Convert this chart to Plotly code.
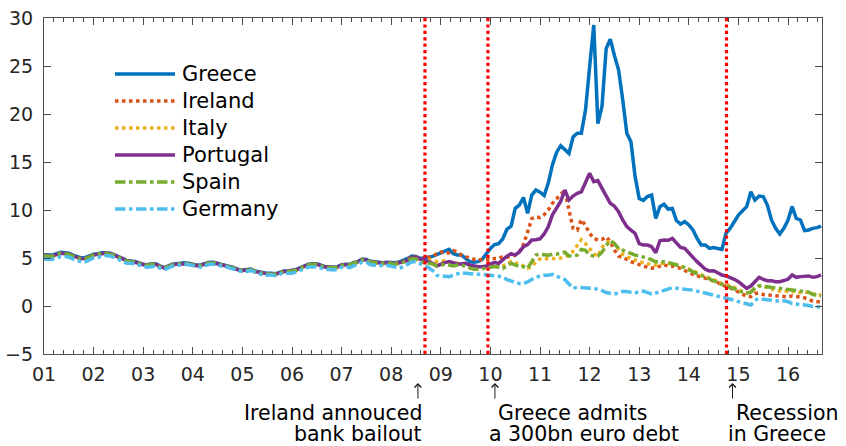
import plotly.graph_objects as go

# ---------------- data (monthly 10-year government bond yields, %) ----------------
n_months = 189  # Jan 2001 .. Sep 2016
months = [2001 + i / 12 for i in range(n_months)]

greece = [
    5.35, 5.30, 5.30, 5.45, 5.60, 5.55, 5.50, 5.30, 5.15, 5.00, 5.05, 5.25,
    5.40, 5.45, 5.55, 5.55, 5.50, 5.35, 5.15, 4.95, 4.75, 4.70, 4.65, 4.50,
    4.35, 4.30, 4.40, 4.40, 4.15, 4.00, 4.15, 4.35, 4.40, 4.45, 4.50, 4.45,
    4.35, 4.25, 4.30, 4.45, 4.55, 4.55, 4.45, 4.35, 4.25, 4.10, 4.00, 3.80,
    3.75, 3.80, 3.85, 3.65, 3.55, 3.45, 3.40, 3.40, 3.35, 3.50, 3.65, 3.65,
    3.70, 3.80, 4.00, 4.20, 4.35, 4.40, 4.40, 4.25, 4.10, 4.10, 4.05, 4.10,
    4.30, 4.35, 4.35, 4.55, 4.65, 4.90, 4.85, 4.65, 4.60, 4.55, 4.50, 4.55,
    4.55, 4.50, 4.60, 4.75, 4.95, 5.20, 5.15, 4.96, 5.00, 5.10, 5.17, 5.35,
    5.56, 5.76, 5.90, 5.45, 5.30, 5.30, 4.96, 4.62, 4.55, 4.62, 4.86, 5.45,
    6.00, 6.40, 6.50, 7.00, 8.00, 8.30, 10.17, 10.50, 11.30, 9.65, 11.56, 12.08,
    11.85, 11.50, 12.80, 14.70, 16.00, 16.70, 16.30, 15.90, 17.60, 18.00, 18.00, 20.40,
    24.90, 29.27, 19.00, 20.80, 26.80, 27.80, 26.10, 24.60, 21.50, 18.00, 17.10, 13.50,
    11.20, 11.00, 11.40, 11.56, 9.13, 10.35, 10.60, 10.10, 10.17, 8.90, 8.54, 8.78,
    8.44, 7.92, 7.05, 6.35, 6.35, 6.00, 6.10, 6.00, 5.90, 7.57, 8.09, 8.78,
    9.48, 9.93, 10.35, 11.90, 11.04, 11.46, 11.40, 10.52, 8.96, 8.09, 7.50, 8.09,
    8.96, 10.35, 9.13, 8.96, 7.85, 7.92, 8.09, 8.16, 8.33,
]

ireland = [
    5.20, 5.15, 5.15, 5.30, 5.45, 5.40, 5.35, 5.15, 5.00, 4.85, 4.90, 5.10,
    5.25, 5.35, 5.45, 5.45, 5.40, 5.25, 5.05, 4.85, 4.65, 4.60, 4.55, 4.40,
    4.25, 4.20, 4.30, 4.30, 4.05, 3.90, 4.05, 4.25, 4.30, 4.35, 4.40, 4.35,
    4.25, 4.15, 4.20, 4.35, 4.45, 4.45, 4.35, 4.25, 4.15, 4.00, 3.90, 3.70,
    3.65, 3.70, 3.75, 3.55, 3.45, 3.35, 3.30, 3.30, 3.25, 3.40, 3.55, 3.55,
    3.60, 3.70, 3.90, 4.10, 4.25, 4.30, 4.30, 4.15, 4.00, 4.00, 3.95, 4.00,
    4.20, 4.25, 4.25, 4.45, 4.55, 4.80, 4.75, 4.55, 4.50, 4.45, 4.40, 4.45,
    4.45, 4.45, 4.55, 4.65, 4.85, 5.15, 5.10, 4.86, 4.90, 5.07, 5.14, 5.45,
    5.63, 5.45, 5.55, 5.76, 5.65, 5.30, 5.14, 4.96, 4.86, 4.80, 4.86, 4.90,
    4.80, 4.96, 4.96, 5.14, 5.07, 5.20, 5.30, 5.63, 6.40, 7.70, 9.10, 9.30,
    9.20, 9.50, 10.00, 10.70, 11.20, 11.56, 12.08, 10.00, 8.09, 7.90, 9.00, 8.40,
    7.57, 7.05, 6.87, 6.94, 7.20, 6.70, 5.83, 5.20, 5.07, 4.86, 4.62, 4.50,
    4.38, 4.17, 4.03, 3.93, 4.00, 4.20, 4.30, 4.15, 4.15, 4.05, 3.93, 3.70,
    3.45, 3.30, 3.15, 3.05, 2.90, 2.75, 2.60, 2.45, 2.20, 2.05, 1.90, 1.70,
    1.45, 1.20, 1.00, 0.97, 1.30, 1.35, 1.20, 1.15, 1.10, 1.10, 1.05, 0.97,
    0.95, 1.05, 1.00, 0.90, 0.85, 0.70, 0.50, 0.45, 0.45,
]

italy = [
    5.25, 5.20, 5.20, 5.35, 5.50, 5.45, 5.40, 5.20, 5.05, 4.90, 4.95, 5.15,
    5.30, 5.40, 5.50, 5.50, 5.45, 5.30, 5.10, 4.90, 4.70, 4.65, 4.60, 4.45,
    4.30, 4.25, 4.35, 4.35, 4.10, 3.95, 4.10, 4.30, 4.35, 4.40, 4.45, 4.40,
    4.30, 4.20, 4.25, 4.40, 4.50, 4.50, 4.40, 4.30, 4.20, 4.05, 3.95, 3.75,
    3.70, 3.75, 3.80, 3.60, 3.50, 3.40, 3.35, 3.35, 3.30, 3.45, 3.60, 3.60,
    3.65, 3.75, 3.95, 4.15, 4.30, 4.35, 4.35, 4.20, 4.05, 4.05, 4.00, 4.05,
    4.25, 4.30, 4.30, 4.50, 4.60, 4.85, 4.80, 4.60, 4.55, 4.50, 4.45, 4.50,
    4.45, 4.40, 4.50, 4.60, 4.75, 5.05, 5.00, 4.80, 4.80, 4.80, 4.79, 4.62,
    4.62, 4.72, 4.62, 4.52, 4.45, 4.50, 4.30, 4.10, 4.10, 4.10, 4.17, 4.10,
    4.27, 4.38, 4.10, 4.17, 4.38, 4.62, 4.45, 4.45, 4.17, 3.93, 4.10, 4.62,
    4.90, 4.90, 4.90, 4.90, 4.95, 5.00, 5.10, 5.30, 5.70, 6.30, 6.90, 6.50,
    6.00, 5.45, 5.20, 6.10, 6.60, 6.80, 6.50, 5.90, 5.40, 5.14, 4.93, 4.79,
    4.62, 4.50, 4.45, 4.30, 4.25, 4.40, 4.45, 4.40, 4.45, 4.30, 4.15, 4.05,
    3.85, 3.65, 3.40, 3.25, 3.10, 2.90, 2.80, 2.60, 2.35, 2.25, 2.10, 1.95,
    1.70, 1.55, 1.35, 1.45, 1.80, 2.10, 2.05, 1.90, 1.80, 1.65, 1.55, 1.60,
    1.50, 1.55, 1.35, 1.40, 1.45, 1.40, 1.25, 1.15, 1.15,
]

portugal = [
    5.25, 5.22, 5.22, 5.36, 5.50, 5.46, 5.40, 5.22, 5.06, 4.92, 4.96, 5.15,
    5.30, 5.38, 5.48, 5.50, 5.45, 5.30, 5.10, 4.92, 4.72, 4.66, 4.60, 4.46,
    4.30, 4.26, 4.35, 4.35, 4.12, 3.96, 4.10, 4.30, 4.36, 4.40, 4.45, 4.40,
    4.30, 4.20, 4.25, 4.40, 4.50, 4.50, 4.40, 4.30, 4.20, 4.05, 3.95, 3.76,
    3.70, 3.75, 3.80, 3.60, 3.50, 3.40, 3.36, 3.35, 3.30, 3.45, 3.60, 3.60,
    3.65, 3.76, 3.95, 4.15, 4.30, 4.35, 4.35, 4.20, 4.05, 4.05, 4.00, 4.05,
    4.25, 4.30, 4.30, 4.50, 4.60, 4.85, 4.80, 4.60, 4.55, 4.50, 4.45, 4.50,
    4.45, 4.40, 4.50, 4.60, 4.75, 5.10, 5.05, 4.86, 4.80, 4.62, 4.45, 4.17,
    4.38, 4.52, 4.62, 4.52, 4.38, 4.38, 4.45, 4.27, 4.17, 4.10, 4.10, 4.17,
    4.38, 4.52, 4.45, 4.86, 5.20, 5.45, 5.30, 5.63, 6.18, 6.40, 6.87, 6.90,
    7.00, 7.50, 8.26, 9.50, 10.20, 10.90, 12.08, 11.04, 11.45, 11.73, 11.90, 12.78,
    13.82, 12.95, 13.06, 12.26, 11.56, 10.70, 10.40, 9.83, 8.96, 8.26, 7.90, 7.57,
    6.50, 6.35, 6.35, 6.18, 5.55, 6.80, 6.87, 6.85, 7.05, 6.53, 6.10, 6.00,
    5.49, 5.07, 4.62, 4.17, 3.82, 3.65, 3.68, 3.47, 3.23, 3.13, 2.99, 2.78,
    2.53, 2.19, 1.84, 2.08, 2.53, 2.99, 2.78, 2.64, 2.64, 2.53, 2.53, 2.70,
    2.78, 3.23, 2.99, 3.06, 3.13, 3.13, 2.99, 3.06, 3.23,
]

spain = [
    5.22, 5.18, 5.18, 5.32, 5.48, 5.43, 5.38, 5.18, 5.02, 4.88, 4.92, 5.12,
    5.28, 5.38, 5.48, 5.48, 5.42, 5.28, 5.08, 4.88, 4.68, 4.62, 4.58, 4.42,
    4.28, 4.22, 4.32, 4.32, 4.08, 3.92, 4.08, 4.28, 4.32, 4.38, 4.42, 4.38,
    4.28, 4.18, 4.22, 4.38, 4.48, 4.48, 4.38, 4.28, 4.18, 4.02, 3.92, 3.72,
    3.68, 3.72, 3.78, 3.58, 3.48, 3.38, 3.32, 3.32, 3.28, 3.42, 3.58, 3.58,
    3.62, 3.72, 3.92, 4.12, 4.28, 4.32, 4.32, 4.18, 4.02, 4.02, 3.98, 4.02,
    4.22, 4.28, 4.28, 4.48, 4.58, 4.82, 4.78, 4.58, 4.52, 4.48, 4.42, 4.48,
    4.40, 4.35, 4.45, 4.55, 4.70, 4.95, 4.90, 4.62, 4.52, 4.45, 4.38, 4.17,
    4.27, 4.35, 4.27, 4.17, 4.27, 4.27, 4.10, 3.93, 3.82, 3.82, 3.90, 3.93,
    4.10, 4.10, 4.03, 3.93, 4.17, 4.45, 4.27, 4.10, 4.10, 3.93, 4.62, 5.30,
    5.40, 5.35, 5.30, 5.40, 5.40, 5.50, 5.60, 5.20, 5.20, 5.30, 5.90, 5.80,
    5.30, 5.20, 5.20, 5.60, 6.30, 6.80, 6.50, 6.00, 5.80, 5.63, 5.50, 5.30,
    5.20, 5.10, 5.00, 4.80, 4.60, 4.65, 4.60, 4.55, 4.40, 4.30, 4.15, 4.00,
    3.75, 3.60, 3.35, 3.20, 3.00, 2.80, 2.70, 2.50, 2.25, 2.05, 1.95, 1.80,
    1.55, 1.45, 1.35, 1.45, 1.90, 2.10, 2.05, 1.95, 1.95, 1.85, 1.80, 1.75,
    1.70, 1.65, 1.60, 1.55, 1.50, 1.45, 1.20, 1.10, 1.05,
]

germany = [
    4.90, 4.85, 4.85, 5.00, 5.15, 5.15, 5.10, 4.90, 4.75, 4.60, 4.60, 4.85,
    5.00, 5.05, 5.20, 5.25, 5.20, 5.05, 4.85, 4.65, 4.45, 4.45, 4.40, 4.25,
    4.10, 4.05, 4.10, 4.15, 3.95, 3.75, 3.95, 4.15, 4.20, 4.25, 4.35, 4.30,
    4.20, 4.10, 4.05, 4.20, 4.35, 4.35, 4.30, 4.15, 4.10, 3.95, 3.85, 3.65,
    3.60, 3.60, 3.70, 3.50, 3.35, 3.20, 3.20, 3.25, 3.15, 3.30, 3.45, 3.40,
    3.40, 3.55, 3.75, 3.95, 4.05, 4.05, 4.10, 3.95, 3.80, 3.80, 3.75, 3.80,
    4.05, 4.10, 4.00, 4.20, 4.35, 4.60, 4.55, 4.30, 4.25, 4.30, 4.15, 4.25,
    4.15, 4.00, 3.95, 4.10, 4.30, 4.60, 4.60, 4.35, 4.20, 4.00, 3.70, 3.20,
    3.10, 3.10, 3.05, 3.20, 3.40, 3.50, 3.40, 3.35, 3.30, 3.30, 3.30, 3.25,
    3.25, 3.20, 3.10, 3.05, 2.75, 2.55, 2.45, 2.35, 2.35, 2.50, 2.75, 3.00,
    3.10, 3.20, 3.20, 3.30, 3.10, 2.90, 2.75, 2.30, 1.85, 1.95, 1.90, 1.90,
    1.85, 1.85, 1.75, 1.60, 1.40, 1.30, 1.25, 1.35, 1.50, 1.50, 1.40, 1.35,
    1.50, 1.55, 1.40, 1.25, 1.35, 1.50, 1.60, 1.75, 1.90, 1.85, 1.80, 1.82,
    1.75, 1.65, 1.55, 1.45, 1.35, 1.25, 1.15, 1.00, 0.95, 0.85, 0.75, 0.60,
    0.45, 0.35, 0.20, 0.10, 0.60, 0.80, 0.70, 0.65, 0.60, 0.55, 0.50, 0.55,
    0.45, 0.25, 0.20, 0.15, 0.15, 0.05, -0.05, -0.08, -0.10,
]

country_names = ["Greece", "Ireland", "Italy", "Portugal", "Spain", "Germany"]
series_values = [greece, ireland, italy, portugal, spain, germany]

tick_years = list(range(2001, 2017))
tick_labels = ["%02d" % (y - 2000) for y in tick_years]

event_dates = [2008.68, 2009.95, 2014.76]
event_text = [
    ["Ireland annouced", "bank bailout"],
    ["Greece admits", "a 300bn euro debt"],
    ["Recession", "in Greece"],
]

# ---------------- styles ----------------
colors = ["#0072BD", "#D95319", "#EDB120", "#7E2F8E", "#77AC30", "#4DBEEE"]
dashes = ["solid", "dot", "dot", "solid", "dashdot", "dashdot"]
LW = 3.5
FONT = "DejaVu Sans"
TXT = "#262626"

W, H = 846, 446
L, R, T, B = 44, 24, 18, 92
PW, PH = W - L - R, H - T - B


def px_to_paper(px, py):
    return (px - L) / PW, (H - B - py) / PH


fig = go.Figure()
for name, vals, c, d in zip(country_names, series_values, colors, dashes):
    fig.add_trace(go.Scatter(
        x=months, y=vals, mode="lines", name=name,
        line=dict(color=c, width=LW, dash=d),
        showlegend=False, hoverinfo="skip",
    ))

# event lines
for ev in event_dates:
    fig.add_shape(type="line", xref="x", yref="paper", x0=ev, x1=ev, y0=0, y1=1,
                  line=dict(color="#FF0000", width=3.2, dash="dot"), layer="above")

# event annotations (arrows + two-line captions)
arrow_shift = [-7, 7, 6]
line1_shift = [-2, 9, 8]
line1_anchor = ["right", "left", "left"]
line2_shift = [-2, 0, 0]
line2_anchor = ["right", "left", "left"]
_, y_arrow_head = px_to_paper(0, 383)
_, y_l1 = px_to_paper(0, 413)
_, y_l2 = px_to_paper(0, 434)
for i, ev in enumerate(event_dates):
    fig.add_annotation(x=ev, xref="x", y=y_arrow_head, yref="paper", text="",
                       showarrow=True, ax=0, ay=17, arrowhead=4, arrowsize=1.3,
                       arrowwidth=1, arrowcolor="#1a1a1a", xshift=arrow_shift[i],
                       standoff=0, startstandoff=0)
    for txt, yy, sh, anc in ((event_text[i][0], y_l1, line1_shift[i], line1_anchor[i]),
                             (event_text[i][1], y_l2, line2_shift[i], line2_anchor[i])):
        fig.add_annotation(x=ev, xref="x", y=yy, yref="paper", text=txt,
                           showarrow=False, xshift=sh, xanchor=anc,
                           yanchor="middle", height=20, valign="middle", borderpad=0,
                           font=dict(family=FONT, size=20.5, color="black"))

# custom legend (long line samples like the original)
leg_rows_py = [74, 101, 128, 155, 182, 209]
for name, c, d, py in zip(country_names, colors, dashes, leg_rows_py):
    x0, yp = px_to_paper(115, py)
    x1, _ = px_to_paper(175, py)
    xt, _ = px_to_paper(180, py)
    fig.add_shape(type="line", xref="paper", yref="paper", x0=x0, x1=x1, y0=yp, y1=yp,
                  line=dict(color=c, width=LW, dash=d))
    fig.add_annotation(x=xt, y=yp, xref="paper", yref="paper", text=name,
                       showarrow=False, xanchor="left", yanchor="middle",
                       font=dict(family=FONT, size=21, color="black"))

axis_common = dict(
    showline=True, linecolor="#4d4d4d", linewidth=1.2, mirror="ticks",
    ticks="inside", ticklen=7, tickwidth=1, tickcolor="#4d4d4d",
    showgrid=False, zeroline=False, automargin=False,
    tickfont=dict(family=FONT, size=19, color=TXT),
)

fig.update_xaxes(
    range=[2001, 2016.685], tickmode="array", tickvals=tick_years, ticktext=tick_labels,
    minor=dict(dtick=0.2, tick0=2001, ticks="inside", ticklen=3.5, tickcolor="#4d4d4d"),
    ticklabelstandoff=3, **axis_common,
)
fig.update_yaxes(
    range=[-5, 30], tickmode="linear", tick0=-5, dtick=5,
    ticklabelstandoff=6, **axis_common,
)

fig.update_layout(
    width=W, height=H, margin=dict(l=L, r=R, t=T, b=B, autoexpand=False),
    paper_bgcolor="white", plot_bgcolor="white", showlegend=False,
)

fig.write_html("out.html", config={"displayModeBar": False},
               post_script="document.body.style.margin='0';")
